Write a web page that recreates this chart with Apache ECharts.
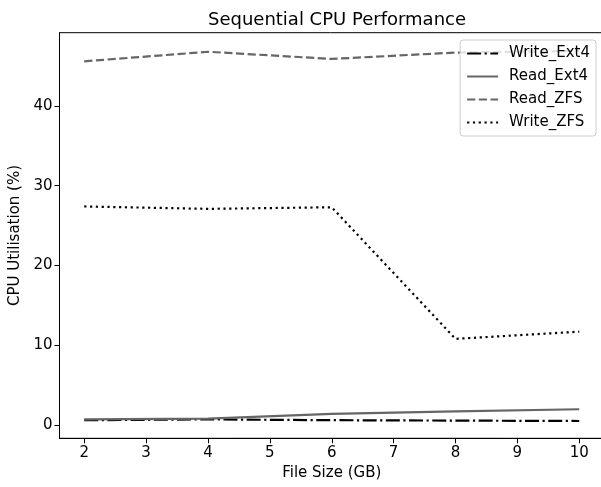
<!DOCTYPE html>
<html>
<head>
<meta charset="utf-8">
<script src="https://cdn.jsdelivr.net/npm/echarts@6/dist/echarts.min.js"></script>
<style>
  html, body { margin: 0; padding: 0; background: #fff; }
  #container { width: 601px; height: 487px; }
</style>
</head>
<body>
<div id="container"></div>
<script>
var fileSizes = [2, 4, 6, 8, 10];
var writeExt4 = [0.6, 0.7, 0.6, 0.55, 0.5];
var readExt4 = [0.7, 0.8, 1.4, 1.7, 1.97];
var readZFS = [45.6, 46.8, 45.9, 46.7, 46.9];
var writeZFS = [27.4, 27.1, 27.3, 10.8, 11.7];
var xTicks = [2, 3, 4, 5, 6, 7, 8, 9, 10];
var yTicks = [0, 10, 20, 30, 40];

var dom = document.getElementById('container');
var myChart = echarts.init(dom, null, { renderer: 'canvas' });

function pairs(ys) {
    return fileSizes.map(function (x, i) { return [x, ys[i]]; });
}

var font = 'DejaVu Sans';

function lineSeries(name, data, color, type) {
    return {
        name: name,
        type: 'line',
        data: pairs(data),
        symbol: 'none',
        showSymbol: false,
        animation: false,
        lineStyle: { color: color, width: 2.2, type: type },
        itemStyle: { color: color },
        emphasis: { disabled: true }
    };
}

var option = {
    backgroundColor: '#fff',
    animation: false,
    title: {
        text: 'Sequential CPU Performance',
        left: 332,
        textAlign: 'center',
        top: 6,
        textStyle: { fontFamily: font, fontSize: 18, fontWeight: 'normal', color: '#000' }
    },
    grid: {
        left: 59.5, width: 544.5, top: 32.7, bottom: 48.7,
        outerBoundsMode: 'none',
        containLabel: false,
        show: true, borderColor: '#000', borderWidth: 1
    },
    legend: {
        right: 5, top: 40,
        orient: 'vertical',
        itemWidth: 31, itemHeight: 10, itemGap: 8,
        padding: [6, 6, 6, 6],
        borderColor: '#ccc', borderWidth: 1, borderRadius: 3,
        backgroundColor: 'rgba(255,255,255,0.8)',
        itemStyle: { opacity: 0 },
        textStyle: { fontFamily: font, fontSize: 15, color: '#000', padding: [0, 0, 0, 6] },
        data: ['Write_Ext4', 'Read_Ext4', 'Read_ZFS', 'Write_ZFS']
    },
    xAxis: {
        type: 'value',
        min: 1.6, max: 10.4,
        name: 'File Size (GB)',
        nameLocation: 'middle',
        nameGap: 25,
        nameTextStyle: { fontFamily: font, fontSize: 15, color: '#000' },
        axisLine: { show: true, onZero: false, lineStyle: { color: '#000' } },
        axisTick: { show: true, length: 5, lineStyle: { color: '#000' }, customValues: xTicks },
        axisLabel: { fontFamily: font, fontSize: 15, color: '#000', margin: 7, customValues: xTicks },
        splitLine: { show: false }
    },
    yAxis: {
        type: 'value',
        min: -1.67, max: 49.19,
        name: 'CPU Utilisation (%)',
        nameLocation: 'middle',
        nameGap: 35,
        nameTextStyle: { fontFamily: font, fontSize: 15, color: '#000' },
        axisLine: { show: true, onZero: false, lineStyle: { color: '#000' } },
        axisTick: { show: true, length: 5, lineStyle: { color: '#000' }, customValues: yTicks },
        axisLabel: { fontFamily: font, fontSize: 15, color: '#000', margin: 7, customValues: yTicks },
        splitLine: { show: false }
    },
    series: [
        lineSeries('Write_Ext4', writeExt4, '#000', [14, 3.5, 2.2, 3.5]),
        lineSeries('Read_Ext4', readExt4, '#666', 'solid'),
        lineSeries('Read_ZFS', readZFS, '#666', [8.2, 3.5]),
        lineSeries('Write_ZFS', writeZFS, '#000', [2.2, 3.6])
    ]
};

myChart.setOption(option);
window.addEventListener('resize', myChart.resize);
</script>
</body>
</html>
